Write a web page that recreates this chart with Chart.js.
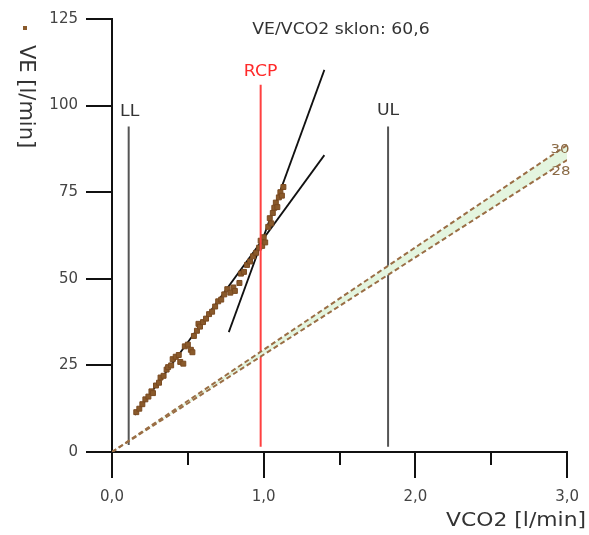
<!DOCTYPE html>
<html lang="cs">
<head>
  <meta charset="UTF-8">
  <title>VE / VCO2</title>
  <script src="https://cdn.jsdelivr.net/npm/chart.js"></script>
  <style>
    body { margin: 0; background: #fff; }
    #chart { display: block; }
  </style>
</head>
<body>
  <canvas id="chart" width="589" height="535"></canvas>

  <script>
// measured points VCO2 [l/min] / VE [l/min]
const vco2 = [0.16, 0.18, 0.20, 0.22, 0.24, 0.26, 0.27, 0.29, 0.31, 0.32, 0.34, 0.36, 0.37, 0.39,
  0.40, 0.42, 0.44, 0.45, 0.47, 0.48, 0.50, 0.52, 0.53, 0.54, 0.56, 0.57, 0.58, 0.60, 0.62, 0.64,
  0.66, 0.68, 0.70, 0.72, 0.74, 0.76, 0.78, 0.80, 0.81, 0.84, 0.85, 0.87, 0.89, 0.91, 0.93, 0.95,
  0.97, 0.98, 0.99, 1.00, 1.01, 1.03, 1.04, 1.05, 1.06, 1.07, 1.08, 1.09, 1.10, 1.11, 1.12, 1.13];
const ve = [11.5, 12.5, 13.8, 15.2, 16.0, 17.5, 17.0, 19.2, 20.0, 21.5, 22.0, 23.8, 24.5, 25.0,
  26.8, 27.5, 28.0, 26.0, 25.5, 30.5, 31.0, 29.5, 28.8, 33.5, 35.0, 37.0, 36.2, 37.5, 38.5, 39.8,
  40.5, 42.0, 43.5, 44.0, 45.5, 47.0, 46.0, 47.5, 46.5, 48.8, 51.5, 52.0, 54.0, 55.0, 56.5, 57.5,
  59.0, 61.0, 59.5, 62.0, 60.5, 65.0, 67.5, 66.0, 69.0, 70.5, 72.0, 70.7, 73.5, 75.0, 74.0, 76.5];

// regression lines [x1, x2], [y1, y2]
const slopeLowX = [0.15, 1.40];
const slopeLowY = [10.7, 85.7];
const slopeHighX = [0.77, 1.40];
const slopeHighY = [34.6, 110.3];

// thresholds
const llX = 0.11, rcpX = 0.98, ulX = 1.82;
const llY = [2, 94], rcpY = [1.5, 106], ulY = [1.5, 94];

// reference slopes 30 and 28
const refX = [0, 3];
const ref30 = [0, 88.6];
const ref28 = [0, 84.3];

const xTicks = [0, 1, 2, 3];
const yTicks = [0, 25, 50, 75, 100, 125];

const FONT = '"DejaVu Sans", Verdana, sans-serif';

const pts = (xs, ys) => xs.map((x, i) => ({ x: x, y: ys[i] }));
const vline = (x, ys) => ys.map(y => ({ x: x, y: y }));

// text slightly stretched sideways like the original export
function label(ctx, text, x, y, size, color, align) {
  ctx.save();
  ctx.font = size + 'px ' + FONT;
  ctx.fillStyle = color;
  ctx.textAlign = align || 'center';
  ctx.textBaseline = 'middle';
  ctx.translate(x, y);
  ctx.scale(1.15, 1);
  ctx.fillText(text, 0, 0);
  ctx.restore();
}

const overlay = {
  id: 'overlay',
  afterDraw(chart) {
    const ctx = chart.ctx;
    const xs = chart.scales.x, ys = chart.scales.y;
    ctx.save();
    // minor x ticks
    ctx.strokeStyle = '#111';
    ctx.lineWidth = 2;
    [0.5, 1.5, 2.5].forEach(v => {
      const px = Math.round(xs.getPixelForValue(v));
      ctx.beginPath();
      ctx.moveTo(px, ys.bottom);
      ctx.lineTo(px, ys.bottom + 13);
      ctx.stroke();
    });
    // legend marker
    ctx.fillStyle = '#8a5a2b';
    ctx.fillRect(23, 26, 4, 4);
    ctx.restore();

    label(ctx, 'VE/VCO2 sklon: 60,6', 341, 30, 15, '#333');
    label(ctx, 'LL', xs.getPixelForValue(llX) + 1, 112, 15, '#333');
    label(ctx, 'UL', xs.getPixelForValue(ulX), 111, 15, '#333');
    label(ctx, 'RCP', xs.getPixelForValue(rcpX), 72, 15, '#ff2a2a');
    label(ctx, '30', 560, 150, 13, '#8a6a45');
    label(ctx, '28', 561, 172, 13, '#8a6a45');
    label(ctx, 'VCO2 [l/min]', 586, 521, 19, '#333', 'right');

    // y title, reads top to bottom
    ctx.save();
    ctx.font = '21px ' + FONT;
    ctx.fillStyle = '#333';
    ctx.textAlign = 'left';
    ctx.textBaseline = 'middle';
    ctx.translate(25, 45);
    ctx.rotate(Math.PI / 2);
    ctx.fillText('VE [l/min]', 0, 0);
    ctx.restore();
  }
};

const lineDs = (data, color, width, extra) => Object.assign({
  type: 'line',
  data: data,
  borderColor: color,
  borderWidth: width,
  pointRadius: 0,
  fill: false,
  tension: 0
}, extra || {});

new Chart(document.getElementById('chart'), {
  type: 'scatter',
  data: {
    datasets: [
      lineDs(pts(refX, ref30), '#9a6e45', 2, { borderDash: [5, 3] }),
      lineDs(pts(refX, ref28), '#9a6e45', 2, { borderDash: [5, 3], fill: '-1', backgroundColor: '#e4f5df' }),
      lineDs(vline(llX, llY), '#555', 2),
      lineDs(vline(ulX, ulY), '#555', 2),
      lineDs(vline(rcpX, rcpY), '#ff4040', 2),
      {
        type: 'scatter',
        data: pts(vco2, ve),
        pointStyle: 'rect',
        pointRadius: 3.5,
        backgroundColor: '#8a5a2b',
        borderColor: '#7a4a20',
        borderWidth: 1
      },
      lineDs(pts(slopeLowX, slopeLowY), '#111', 1.8),
      lineDs(pts(slopeHighX, slopeHighY), '#111', 1.8)
    ]
  },
  options: {
    responsive: false,
    animation: false,
    layout: { padding: { top: 19, right: 20, left: 0, bottom: 0 } },
    plugins: { legend: { display: false }, tooltip: { enabled: false } },
    scales: {
      x: {
        type: 'linear',
        min: 0,
        max: 3,
        afterFit: s => { s.height = 83; },
        afterBuildTicks: s => { s.ticks = xTicks.map(v => ({ value: v })); },
        ticks: {
          padding: 10,
          color: '#444',
          font: { size: 15, family: FONT },
          callback: v => v.toFixed(1).replace('.', ',')
        },
        grid: { drawOnChartArea: false, drawTicks: true, tickLength: 26, color: '#111', lineWidth: 2 },
        border: { display: true, color: '#111', width: 2 }
      },
      y: {
        type: 'linear',
        min: 0,
        max: 125,
        afterFit: s => { s.width = 112; },
        afterBuildTicks: s => { s.ticks = yTicks.map(v => ({ value: v })); },
        ticks: {
          padding: 8,
          color: '#444',
          font: { size: 15, family: FONT }
        },
        grid: { drawOnChartArea: false, drawTicks: true, tickLength: 26, color: '#111', lineWidth: 2 },
        border: { display: true, color: '#111', width: 2 }
      }
    }
  },
  plugins: [overlay]
});
  </script>
</body>
</html>
